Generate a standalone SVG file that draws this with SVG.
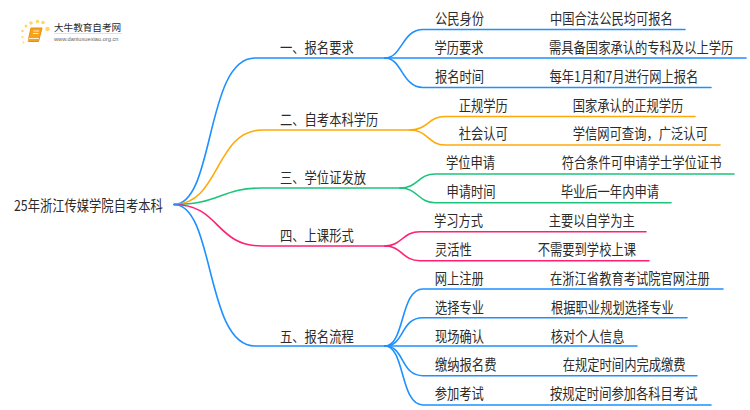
<svg xmlns="http://www.w3.org/2000/svg" width="750" height="410" viewBox="0 0 750 410">
<style>
text{font-family:"Noto Sans CJK SC","Noto Sans",sans-serif;font-size:12.3px;fill:#2b2b2b}
.c{fill:none;stroke-width:1.6;stroke-linecap:round}
.b{stroke:#1e90ff}.o{stroke:#ffa90a}.g{stroke:#1cc47c}.p{stroke:#ff1f73}
</style>
<rect width="750" height="410" fill="#fff"/>
<g id="logo">
<g fill="#fdd66e"><circle cx="47.500" cy="29" r="2.200"/><circle cx="43" cy="22.500" r="1.800"/><circle cx="37.500" cy="21.500" r="1.800"/><circle cx="31" cy="23" r="1.800"/><circle cx="26" cy="26" r="1.500"/><circle cx="22.500" cy="31" r="1.300"/><circle cx="22.500" cy="37" r="1.100"/><circle cx="23.500" cy="42.500" r="1"/></g>
<path d="M31 28H42L38.500 41.500H28Z" fill="#f7a21b" stroke="#ee8a10" stroke-width="1"/>
<path d="M28 41.500Q27 39.500 29 38.500H39" fill="none" stroke="#fff" stroke-width=".8"/>
<path d="M33.500 31H39M33 33.500H38.500" stroke="#fff" stroke-width=".8"/>
<text x="54" y="31" style="font-size:9.600px">大牛教育自考网</text>
<path d="M54 33.500H122" stroke="#ccc" stroke-width=".6"/>
<text x="54" y="41" style="font-family:'Liberation Sans',sans-serif;font-size:5.700px;fill:#666">www.daniuxuexiao.org.cn</text>
</g>
<g id="connectors">
<path class="c b" d="M174 204.500C215 204.500 205 58 255 58H385"/>
<path class="c o" d="M174 204.500C220 204.500 215 130 262 130H410"/>
<path class="c g" d="M174 204.500C220 204.500 220 188 262 188H400"/>
<path class="c p" d="M174 204.500C220 204.500 215 246 262 246H385"/>
<path class="c b" d="M174 204.500C215 204.500 205 346 255 346H385"/>
<path class="c b" d="M385 58C402 58 402 29.500 423 29.500H685"/>
<path class="c b" d="M385 58H746"/>
<path class="c b" d="M385 58C402 58 402 87.500 423 87.500H711"/>
<path class="c o" d="M410 130C428 130 428 116.500 445 116.500H695"/>
<path class="c o" d="M410 130C428 130 428 145 445 145H720"/>
<path class="c g" d="M400 188C418 188 418 174 435 174H734"/>
<path class="c g" d="M400 188C418 188 418 202.700 435 202.700H671"/>
<path class="c p" d="M385 246C402 246 402 231.700 420 231.700H646"/>
<path class="c p" d="M385 246C402 246 402 260.700 420 260.700H649"/>
<path class="c b" d="M385 346C405 346 400 289 423 289H723"/>
<path class="c b" d="M385 346C405 346 400 317.700 423 317.700H687"/>
<path class="c b" d="M385 346H637"/>
<path class="c b" d="M385 346C405 346 400 375.700 423 375.700H697"/>
<path class="c b" d="M385 346C405 346 400 405 423 405H711"/>
</g>
<g id="root"><text transform="translate(14 210.500) scale(1 1.180)">25年浙江传媒学院自考本科</text></g>
<g id="n1"><text transform="translate(280 53) scale(1 1.180)">一、报名要求</text></g>
<g id="n2"><text transform="translate(280 124.500) scale(1 1.180)">二、自考本科学历</text></g>
<g id="n3"><text transform="translate(280 183) scale(1 1.180)">三、学位证发放</text></g>
<g id="n4"><text transform="translate(280 241) scale(1 1.180)">四、上课形式</text></g>
<g id="n5"><text transform="translate(280 341.500) scale(1 1.180)">五、报名流程</text></g>
<g id="n1-1"><text transform="translate(435 24) scale(1 1.180)">公民身份</text><text transform="translate(550 24) scale(1 1.180)">中国合法公民均可报名</text></g>
<g id="n1-2"><text transform="translate(434.500 53) scale(1 1.180)">学历要求</text><text transform="translate(549 53) scale(1 1.180)">需具备国家承认的专科及以上学历</text></g>
<g id="n1-3"><text transform="translate(435 82) scale(1 1.180)">报名时间</text><text transform="translate(549.500 82) scale(1 1.180)">每年1月和7月进行网上报名</text></g>
<g id="n2-1"><text transform="translate(458.700 111) scale(1 1.180)">正规学历</text><text transform="translate(572.700 111) scale(1 1.180)">国家承认的正规学历</text></g>
<g id="n2-2"><text transform="translate(458.700 139) scale(1 1.180)">社会认可</text><text transform="translate(572.700 139) scale(1 1.180)">学信网可查询，广泛认可</text></g>
<g id="n3-1"><text transform="translate(446 168) scale(1 1.180)">学位申请</text><text transform="translate(561.700 168) scale(1 1.180)">符合条件可申请学士学位证书</text></g>
<g id="n3-2"><text transform="translate(446.500 197) scale(1 1.180)">申请时间</text><text transform="translate(560.700 197) scale(1 1.180)">毕业后一年内申请</text></g>
<g id="n4-1"><text transform="translate(434 226) scale(1 1.180)">学习方式</text><text transform="translate(548.700 226) scale(1 1.180)">主要以自学为主</text></g>
<g id="n4-2"><text transform="translate(435 255) scale(1 1.180)">灵活性</text><text transform="translate(537.700 255) scale(1 1.180)">不需要到学校上课</text></g>
<g id="n5-1"><text transform="translate(434.700 284) scale(1 1.180)">网上注册</text><text transform="translate(550 284) scale(1 1.180)">在浙江省教育考试院官网注册</text></g>
<g id="n5-2"><text transform="translate(435 313) scale(1 1.180)">选择专业</text><text transform="translate(551 313) scale(1 1.180)">根据职业规划选择专业</text></g>
<g id="n5-3"><text transform="translate(435 341.500) scale(1 1.180)">现场确认</text><text transform="translate(550.700 341.500) scale(1 1.180)">核对个人信息</text></g>
<g id="n5-4"><text transform="translate(435 370) scale(1 1.180)">缴纳报名费</text><text transform="translate(562.700 370) scale(1 1.180)">在规定时间内完成缴费</text></g>
<g id="n5-5"><text transform="translate(434.700 399) scale(1 1.180)">参加考试</text><text transform="translate(550 399) scale(1 1.180)">按规定时间参加各科目考试</text></g>
</svg>
